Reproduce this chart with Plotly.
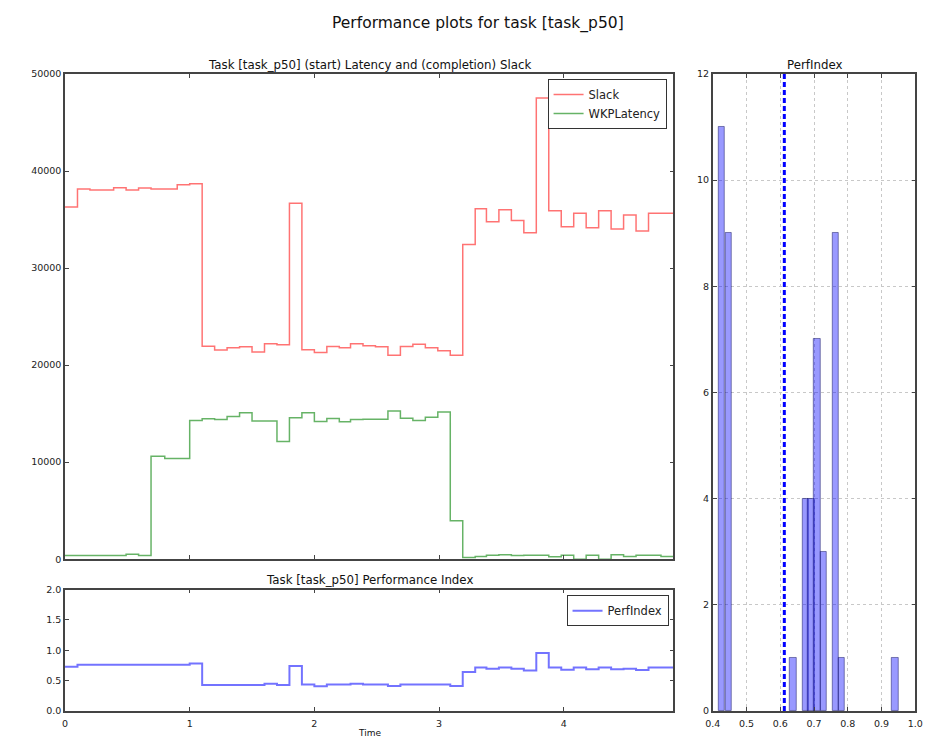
import plotly.graph_objects as go

# ---------------- data ----------------
times = [0.00, 0.10, 0.20, 0.29, 0.39, 0.49, 0.59, 0.69, 0.80, 0.90,
         1.00, 1.10, 1.20, 1.30, 1.40, 1.50, 1.60, 1.70, 1.80, 1.90,
         2.00, 2.10, 2.20, 2.29, 2.39, 2.49, 2.59, 2.69, 2.79, 2.89,
         2.99, 3.09, 3.19, 3.29, 3.38, 3.48, 3.58, 3.68, 3.78, 3.88,
         3.98, 4.08, 4.18, 4.28, 4.38, 4.48, 4.58, 4.68, 4.78]
t_end = 4.88

slack = [36300, 38150, 38050, 38050, 38280, 38050, 38250, 38150, 38150, 38590,
         38690, 21950, 21550, 21780, 21890, 21350, 22190, 22090, 36690, 21580,
         21310, 21920, 21780, 22190, 21990, 21890, 21010, 21920, 22160, 21780,
         21480, 21010, 32420, 36110, 34760, 36010, 34900, 33640, 47530, 35910,
         34250, 35640, 34150, 35910, 34020, 35470, 33810, 35640, 35640]

wkp_latency = [370, 370, 370, 370, 370, 500, 370, 10600, 10370, 10370,
               14300, 14470, 14400, 14700, 15080, 14230, 14230, 12130, 14570, 15080,
               14200, 14500, 14160, 14400, 14430, 14430, 15280, 14530, 14300, 14640,
               15180, 3960, 170, 270, 400, 470, 370, 400, 400, 240,
               400, 0, 400, 0, 470, 270, 400, 400, 270]

perf_index = [0.730, 0.763, 0.763, 0.763, 0.763, 0.763, 0.763, 0.763, 0.763, 0.763,
              0.785, 0.430, 0.430, 0.430, 0.430, 0.430, 0.452, 0.430, 0.741, 0.436,
              0.409, 0.436, 0.436, 0.452, 0.436, 0.436, 0.414, 0.436, 0.436, 0.436,
              0.436, 0.414, 0.643, 0.719, 0.698, 0.719, 0.698, 0.670, 0.954, 0.719,
              0.681, 0.719, 0.687, 0.719, 0.687, 0.698, 0.676, 0.719, 0.719]

hist_centers = [0.427, 0.4465, 0.639, 0.675, 0.6915, 0.710, 0.729, 0.7635, 0.7825, 0.9405]
hist_counts = [11, 9, 1, 4, 4, 7, 3, 9, 1, 1]
hist_bin_width = 0.0188
perf_mean = 0.612

title_main = "Performance plots for task [task_p50]"
title_top = "Task [task_p50] (start) Latency and (completion) Slack"
title_bottom = "Task [task_p50] Performance Index"
title_hist = "PerfIndex"

# ---------------- figure ----------------
W, H = 938, 744
def px_x(p):
    return p / W
def px_y(p):
    return 1 - p / H

FONT = "DejaVu Sans"
AX_LINE = "#444444"

x_step = times + [t_end]

fig = go.Figure()

fig.add_trace(go.Scatter(
    x=x_step, y=slack + [slack[-1]], mode="lines", line_shape="hv",
    line=dict(color="rgba(255,0,0,0.55)", width=1.5), name="Slack",
    xaxis="x", yaxis="y", legend="legend"))
fig.add_trace(go.Scatter(
    x=x_step, y=wkp_latency + [wkp_latency[-1]], mode="lines", line_shape="hv",
    line=dict(color="rgba(0,128,0,0.6)", width=1.5), name="WKPLatency",
    xaxis="x", yaxis="y", legend="legend"))
fig.add_trace(go.Scatter(
    x=x_step, y=perf_index + [perf_index[-1]], mode="lines", line_shape="hv",
    line=dict(color="rgba(0,0,255,0.55)", width=2), name="PerfIndex",
    xaxis="x2", yaxis="y2", legend="legend2"))
fig.add_trace(go.Bar(
    x=hist_centers, y=hist_counts, width=hist_bin_width,
    marker=dict(color="rgba(0,0,255,0.4)", line=dict(color="rgba(0,0,80,0.45)", width=1)),
    xaxis="x3", yaxis="y3", showlegend=False))
fig.add_trace(go.Scatter(
    x=[perf_mean, perf_mean], y=[0, 12], mode="lines",
    line=dict(color="#0000ff", width=3, dash="5px,3px"),
    xaxis="x3", yaxis="y3", showlegend=False))

axis_common = dict(
    showline=True, linecolor=AX_LINE, linewidth=1.5, mirror="ticks",
    ticks="inside", ticklen=4, tickcolor=AX_LINE, tickwidth=1,
    zeroline=False, showgrid=False,
    tickfont=dict(family=FONT, size=9.5, color="#222222"),
)
grid_extra = {"showgrid": True, "gridcolor": "#c8c8c8", "griddash": "dot", "gridwidth": 1}

left_dom = [px_x(58), px_x(677)]
right_dom = [px_x(717), px_x(923)]

fig.update_layout(
    width=W, height=H, autosize=False,
    margin=dict(l=0, r=0, t=0, b=0),
    paper_bgcolor="white", plot_bgcolor="white",
    font=dict(family=FONT, size=10, color="#222222"),
    bargap=0,
    xaxis=dict(domain=left_dom, anchor="y", range=[0, t_end],
               tickvals=[0, 1, 2, 3, 4], showticklabels=False, **axis_common),
    yaxis=dict(domain=[px_y(561.5), px_y(69)], anchor="x", range=[0, 50000],
               tickvals=[0, 10000, 20000, 30000, 40000, 50000], tickformat="d",
               **axis_common),
    xaxis2=dict(domain=left_dom, anchor="y2", range=[0, t_end],
                tickvals=[0, 1, 2, 3, 4], ticklabelstandoff=3, **axis_common),
    yaxis2=dict(domain=[px_y(715.7), px_y(592.3)], anchor="x2", range=[0, 2],
                tickvals=[0, 0.5, 1.0, 1.5, 2.0], tickformat=".1f", **axis_common),
    xaxis3=dict(domain=right_dom, anchor="y3", range=[0.4, 1.0],
                tickvals=[0.4, 0.5, 0.6, 0.7, 0.8, 0.9, 1.0], tickformat=".1f",
                ticklabelstandoff=3, **{**axis_common, **grid_extra}),
    yaxis3=dict(domain=[px_y(715.7), px_y(69)], anchor="x3", range=[0, 12],
                tickvals=[0, 2, 4, 6, 8, 10, 12],
                **{**axis_common, **grid_extra}),
    legend=dict(x=px_x(670), y=px_y(74), xanchor="right", yanchor="top",
                bgcolor="white", bordercolor="#333333", borderwidth=1,
                font=dict(family=FONT, size=11.5, color="#222222"),
                tracegroupgap=0, itemwidth=30),
    legend2=dict(x=px_x(672), y=px_y(598), xanchor="right", yanchor="top",
                 bgcolor="white", bordercolor="#333333", borderwidth=1,
                 font=dict(family=FONT, size=11.5, color="#222222"),
                 itemwidth=30),
    annotations=[
        dict(text=title_main, x=px_x(478), y=px_y(18), xref="paper", yref="paper",
             xanchor="center", yanchor="middle", showarrow=False,
             font=dict(family=FONT, size=15.5, color="#111111")),
        dict(text=title_top, x=px_x(367.5), y=px_y(60), xref="paper", yref="paper",
             xanchor="center", yanchor="middle", showarrow=False,
             font=dict(family=FONT, size=11.8, color="#111111")),
        dict(text=title_bottom, x=px_x(367.5), y=px_y(583), xref="paper", yref="paper",
             xanchor="center", yanchor="middle", showarrow=False,
             font=dict(family=FONT, size=11.8, color="#111111")),
        dict(text=title_hist, x=px_x(820), y=px_y(60), xref="paper", yref="paper",
             xanchor="center", yanchor="middle", showarrow=False,
             font=dict(family=FONT, size=11.8, color="#111111")),
        dict(text="Time", x=px_x(367.5), y=px_y(738), xref="paper", yref="paper",
             xanchor="center", yanchor="middle", showarrow=False,
             font=dict(family=FONT, size=9, color="#111111")),
    ],
)

fig.write_html("out.html")
